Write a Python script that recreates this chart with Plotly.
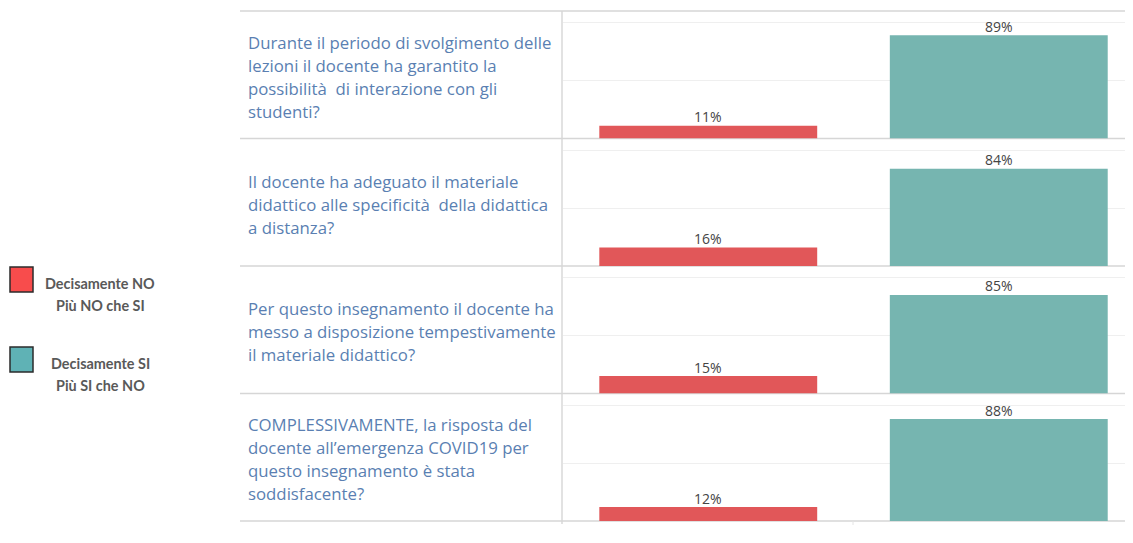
import plotly.graph_objects as go
from plotly.subplots import make_subplots

# The page body adds an 8px margin; all reference pixel positions are shifted by OFF.
OFF = 8
W, H = 1133 - OFF, 543 - OFF
MT, MB = 11 - OFF, 22

# ---- data ----
question_lines = [
    ["Durante il periodo di svolgimento delle",
     "lezioni il docente ha garantito la",
     "possibilità  di interazione con gli",
     "studenti?"],
    ["Il docente ha adeguato il materiale",
     "didattico alle specificità  della didattica",
     "a distanza?"],
    ["Per questo insegnamento il docente ha",
     "messo a disposizione tempestivamente",
     "il materiale didattico?"],
    ["COMPLESSIVAMENTE, la risposta del",
     "docente all\u2019emergenza COVID19 per",
     "questo insegnamento è stata",
     "soddisfacente?"],
]
categories = [0, 1]
no_pct = [11, 16, 15, 12]
si_pct = [89, 84, 85, 88]
legend_no = ["Decisamente NO", "Più NO che SI"]
legend_si = ["Decisamente SI", "Più SI che NO"]

RED = "#e15759"
TEAL = "#76b5b0"
TEXT_BLUE = "#5a7fb2"
n_rows = len(question_lines)


def px_x(x):
    # x given in reference-image pixels
    return (x - OFF) / W


def px_y(y):
    # y given in reference-image pixels
    return (H - MB - (y - OFF)) / (H - MT - MB)


fig = make_subplots(rows=n_rows, cols=1, shared_xaxes=True, vertical_spacing=0)

annotations = []
for i in range(n_rows):
    vals = [no_pct[i], si_pct[i]]
    fig.add_trace(go.Bar(
        x=categories, y=vals,
        marker=dict(color=[RED, TEAL], line=dict(width=0)),
        width=0.75,
        showlegend=False,
        hoverinfo="skip",
    ), row=i + 1, col=1)
    sfx = "" if i == 0 else str(i + 1)
    for c, v in zip(categories, vals):
        annotations.append(dict(
            xref="x" + sfx, yref="y" + sfx, x=c, y=v,
            xanchor="center", yanchor="middle", yshift=9, showarrow=False,
            text=f"{v}%",
            font=dict(family="Open Sans", size=14, color="#444444")))

fig.update_xaxes(domain=[px_x(563), 1], range=[-0.5, 1.462], showticklabels=False,
                 showgrid=False, zeroline=False, showline=False, ticks="")
fig.update_yaxes(range=[0, 110], showticklabels=False, tickvals=[50, 100],
                 showgrid=True, gridcolor="#efefef", gridwidth=1,
                 zeroline=False, showline=False, ticks="")

shapes = []
top_px, bot_px = 11, 521
row_h = (bot_px - top_px) / n_rows
for k in range(n_rows + 1):
    y = top_px + k * row_h
    shapes.append(dict(type="line", xref="paper", yref="paper", layer="below",
                       x0=px_x(240), x1=1, y0=px_y(y), y1=px_y(y),
                       line=dict(color="#d6d6d6", width=1.6)))
shapes.append(dict(type="line", xref="paper", yref="paper",
                   x0=px_x(562), x1=px_x(562), y0=px_y(top_px), y1=px_y(bot_px + 3),
                   line=dict(color="#d6d6d6", width=1.4)))
shapes.append(dict(type="line", xref="paper", yref="paper",
                   x0=px_x(853), x1=px_x(853), y0=px_y(bot_px), y1=px_y(bot_px + 4),
                   line=dict(color="#e4e4e4", width=1)))

LINE = 23
for i, lines in enumerate(question_lines):
    center = top_px + (i + 0.5) * row_h + 2
    start = center - (len(lines) - 1) * LINE / 2
    for j, ln in enumerate(lines):
        annotations.append(dict(
            xref="paper", yref="paper", x=px_x(246), y=px_y(start + j * LINE),
            xanchor="left", yanchor="middle", showarrow=False, text=ln,
            font=dict(family="Open Sans", size=16.8, color=TEXT_BLUE)))

# legend
for (y0, y1, col, labels, ty) in [(267, 292, "#f84c4c", legend_no, (283, 305)),
                                  (347, 372, "#5fb2b5", legend_si, (363, 385))]:
    shapes.append(dict(type="rect", xref="paper", yref="paper",
                       x0=px_x(10), x1=px_x(33), y0=px_y(y0), y1=px_y(y1),
                       fillcolor=col, line=dict(color="#2b2b2b", width=1.5)))
    for lab, yy in zip(labels, ty):
        annotations.append(dict(
            xref="paper", yref="paper", x=px_x(100), y=px_y(yy),
            xanchor="center", yanchor="middle", showarrow=False,
            text=f"<b>{lab}</b>",
            font=dict(family="Lato", size=14.4, color="#595959")))

fig.update_layout(
    width=W, height=H,
    margin=dict(l=0, r=0, t=MT, b=MB),
    paper_bgcolor="white", plot_bgcolor="white",
    shapes=shapes, annotations=annotations,
)

fig.write_html("out.html")
